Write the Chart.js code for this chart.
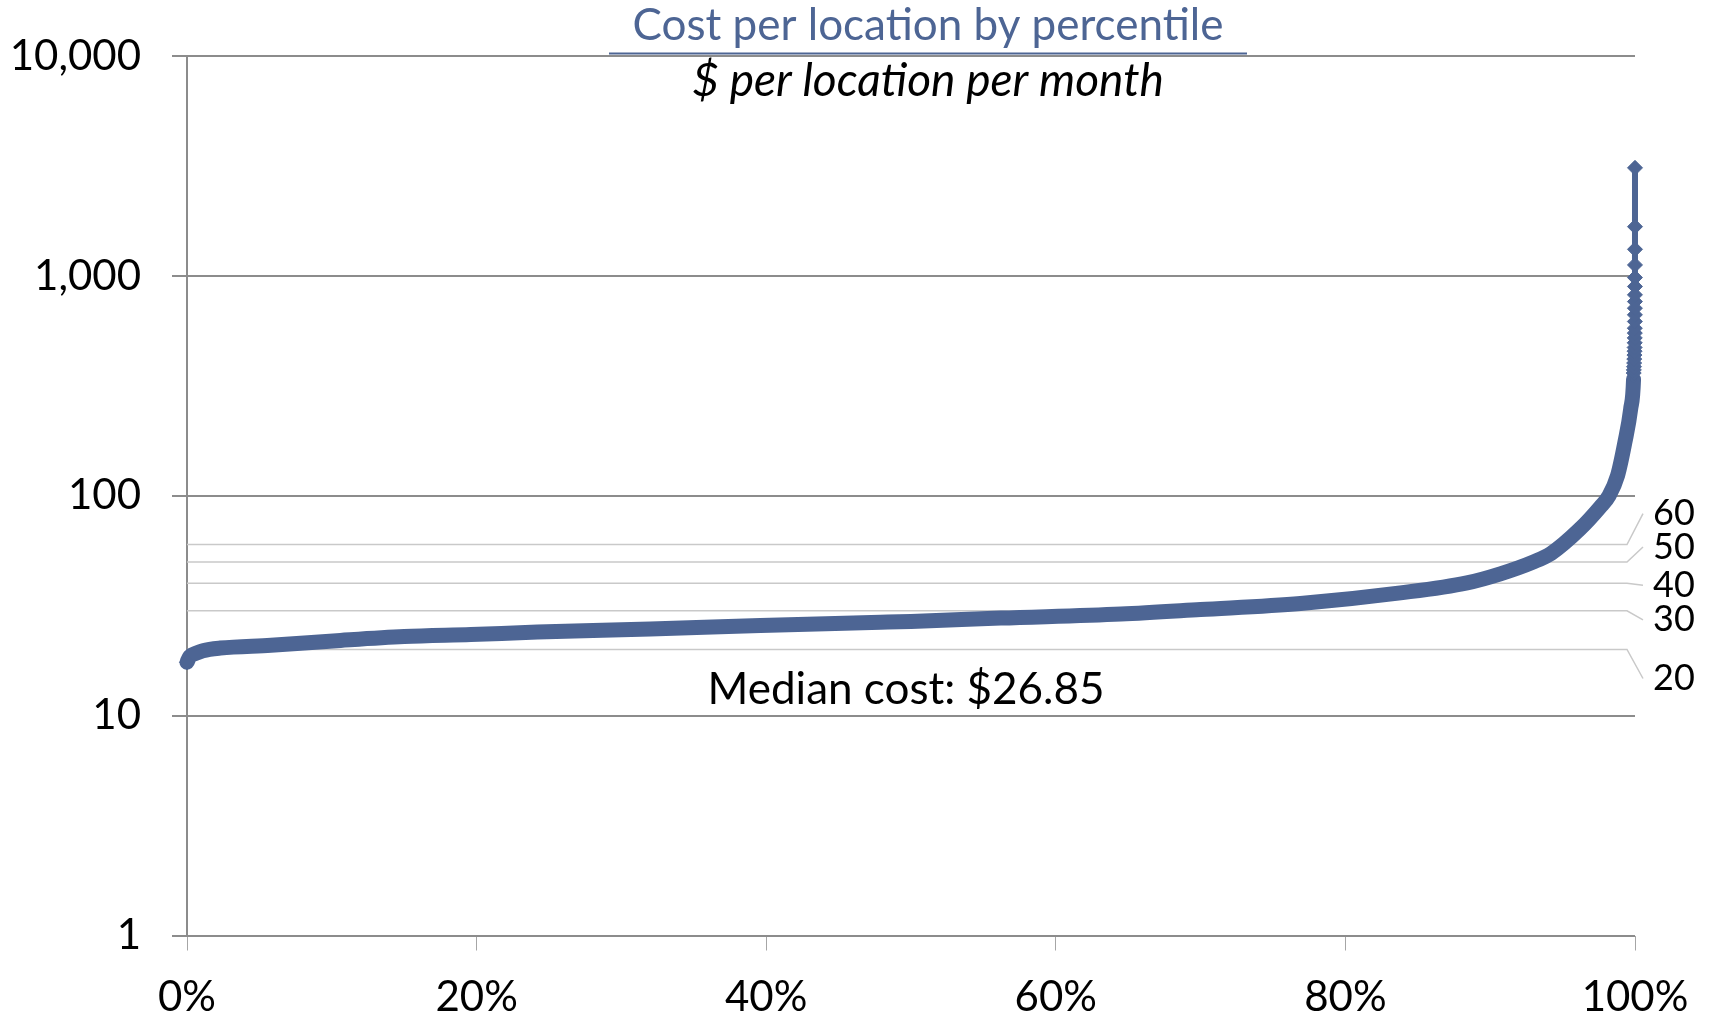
<!DOCTYPE html>
<html>
<head>
<meta charset="utf-8">
<script src="https://cdn.jsdelivr.net/npm/chart.js@4/dist/chart.umd.min.js"></script>
<style>
  html, body { margin: 0; padding: 0; background: #fff; }
  #wrap { width: 1711px; height: 1017px; }
</style>
</head>
<body>
<div id="wrap"><canvas id="chart" width="1711" height="1017"></canvas></div>
<script>
// percentile of each location, cheapest first
const percentiles = [0, 0.002, 0.006, 0.011, 0.023, 0.058, 0.106, 0.150, 0.196, 0.242, 0.320, 0.396, 0.479, 0.500,
  0.562, 0.645, 0.700, 0.769, 0.838, 0.884, 0.907, 0.930, 0.942, 0.962, 0.976, 0.982, 0.988, 0.993, 0.997, 0.999];
const costs = [17.5, 18.6, 19.2, 19.75, 20.3, 20.9, 22.0, 22.9, 23.4, 24.0, 24.8, 25.7, 26.6, 26.85,
  27.8, 29.0, 30.4, 32.4, 36.2, 40.2, 44.2, 50.1, 54.7, 70.7, 89.0, 100, 124, 175, 248, 339];

// the handful of outliers at the very top (shown with markers)
const tailPercentiles = [0.9991, 0.9992, 0.9993, 0.9994, 0.9995, 0.9996, 0.9997, 0.99975, 0.9998, 0.99983, 0.99986,
  0.99988, 0.9999, 0.99992, 0.99993, 0.99994, 0.99995, 0.99996, 0.99997, 0.99998, 0.99999, 0.999995, 1];
const tailCosts = [362, 374, 387, 402, 419, 437, 455, 473, 497, 523, 550, 579, 621, 666, 714, 765, 821, 896,
  984, 1123, 1323, 1677, 3105];

const yTicks = [1, 10, 100, 1000, 10000];
const xTicks = [0, 0.2, 0.4, 0.6, 0.8, 1];
const refLevels = [20, 30, 40, 50, 60];
const medianCost = 26.85;

const titleText = 'Cost per location by percentile';
const subtitleText = '$ per location per month';

const BLUE = '#4d6594';
const FONT = 'Lato';

const bandCount = percentiles.length;
const points = percentiles.concat(tailPercentiles).map((p, i) => ({ x: p, y: costs.concat(tailCosts)[i] }));

// labels on the right are spread out, leader lines connect them to their line
const labelNudge = [29, 9, 2, -15, -31];

const refLinesPlugin = {
    id: 'refLines',
    beforeDatasetsDraw(chart) {
        const { ctx, chartArea } = chart;
        const y = chart.scales.y;
        ctx.save();
        refLevels.forEach((v, i) => {
            const py = y.getPixelForValue(v);
            const ly = py + labelNudge[i];
            ctx.strokeStyle = '#c9c9c9';
            ctx.lineWidth = 1.5;
            ctx.beginPath();
            ctx.moveTo(chartArea.left, py);
            ctx.lineTo(chartArea.right - 8, py);
            ctx.lineTo(chartArea.right + 8, ly);
            ctx.stroke();
            ctx.fillStyle = '#000';
            ctx.font = '36px ' + FONT;
            ctx.textAlign = 'left';
            ctx.textBaseline = 'middle';
            ctx.fillText(String(v), chartArea.right + 18, ly);
        });
        ctx.restore();
    }
};

const textPlugin = {
    id: 'texts',
    afterDraw(chart) {
        const { ctx } = chart;
        const { x, y } = chart.scales;
        ctx.save();
        ctx.textAlign = 'center';
        ctx.textBaseline = 'alphabetic';

        ctx.fillStyle = BLUE;
        ctx.font = '44px ' + FONT;
        ctx.fillText(titleText, 928, 40);
        ctx.strokeStyle = BLUE;
        ctx.lineWidth = 2;
        ctx.beginPath();
        ctx.moveTo(609, 53.5);
        ctx.lineTo(1247, 53.5);
        ctx.stroke();

        ctx.fillStyle = '#000';
        ctx.font = 'italic 46px ' + FONT;
        ctx.fillText(subtitleText, 928, 96);

        ctx.font = '44px ' + FONT;
        ctx.fillText('Median cost: $' + medianCost.toFixed(2), x.getPixelForValue(0.5) - 5, y.getPixelForValue(10) - 12);
        ctx.restore();
    }
};

new Chart(document.getElementById('chart'), {
    type: 'line',
    data: {
        datasets: [{
            data: points,
            borderColor: BLUE,
            backgroundColor: BLUE,
            borderWidth: 15,
            segment: {
                borderWidth: c => (c.p0DataIndex >= bandCount - 1 ? 6 : 15)
            },
            pointStyle: 'rectRot',
            pointRadius: c => (c.dataIndex === 0 || c.dataIndex >= bandCount ? 7.5 : 0),
            pointBorderWidth: 1,
            cubicInterpolationMode: 'monotone',
            borderCapStyle: 'round',
            borderJoinStyle: 'round',
            fill: false,
            clip: false
        }]
    },
    options: {
        responsive: false,
        animation: false,
        devicePixelRatio: 1,
        layout: { padding: { top: 54, right: 76, left: 0, bottom: 0 } },
        plugins: { legend: { display: false }, tooltip: { enabled: false } },
        scales: {
            x: {
                type: 'linear',
                min: 0,
                max: 1,
                afterBuildTicks: s => { s.ticks = xTicks.map(v => ({ value: v })); },
                afterFit: s => { s.height = 81.5; },
                grid: { drawOnChartArea: false, drawTicks: true, tickLength: 15, color: '#a6a6a6', lineWidth: 1 },
                border: { display: false },
                ticks: {
                    color: '#000',
                    font: { family: FONT, size: 42 },
                    padding: 22,
                    maxRotation: 0,
                    autoSkip: false,
                    callback: v => Math.round(v * 100) + '%'
                }
            },
            y: {
                type: 'logarithmic',
                min: 1,
                max: 10000,
                afterBuildTicks: s => { s.ticks = yTicks.map(v => ({ value: v })); },
                afterFit: s => { s.width = 187; },
                grid: { color: '#8c8c8c', lineWidth: 2, tickLength: 15, drawTicks: true },
                border: { color: '#8c8c8c', width: 2 },
                ticks: {
                    color: '#000',
                    font: { family: FONT, size: 42 },
                    padding: 31,
                    autoSkip: false,
                    callback: v => Number(v).toLocaleString('en-US')
                }
            }
        }
    },
    plugins: [refLinesPlugin, textPlugin]
});
</script>
</body>
</html>
